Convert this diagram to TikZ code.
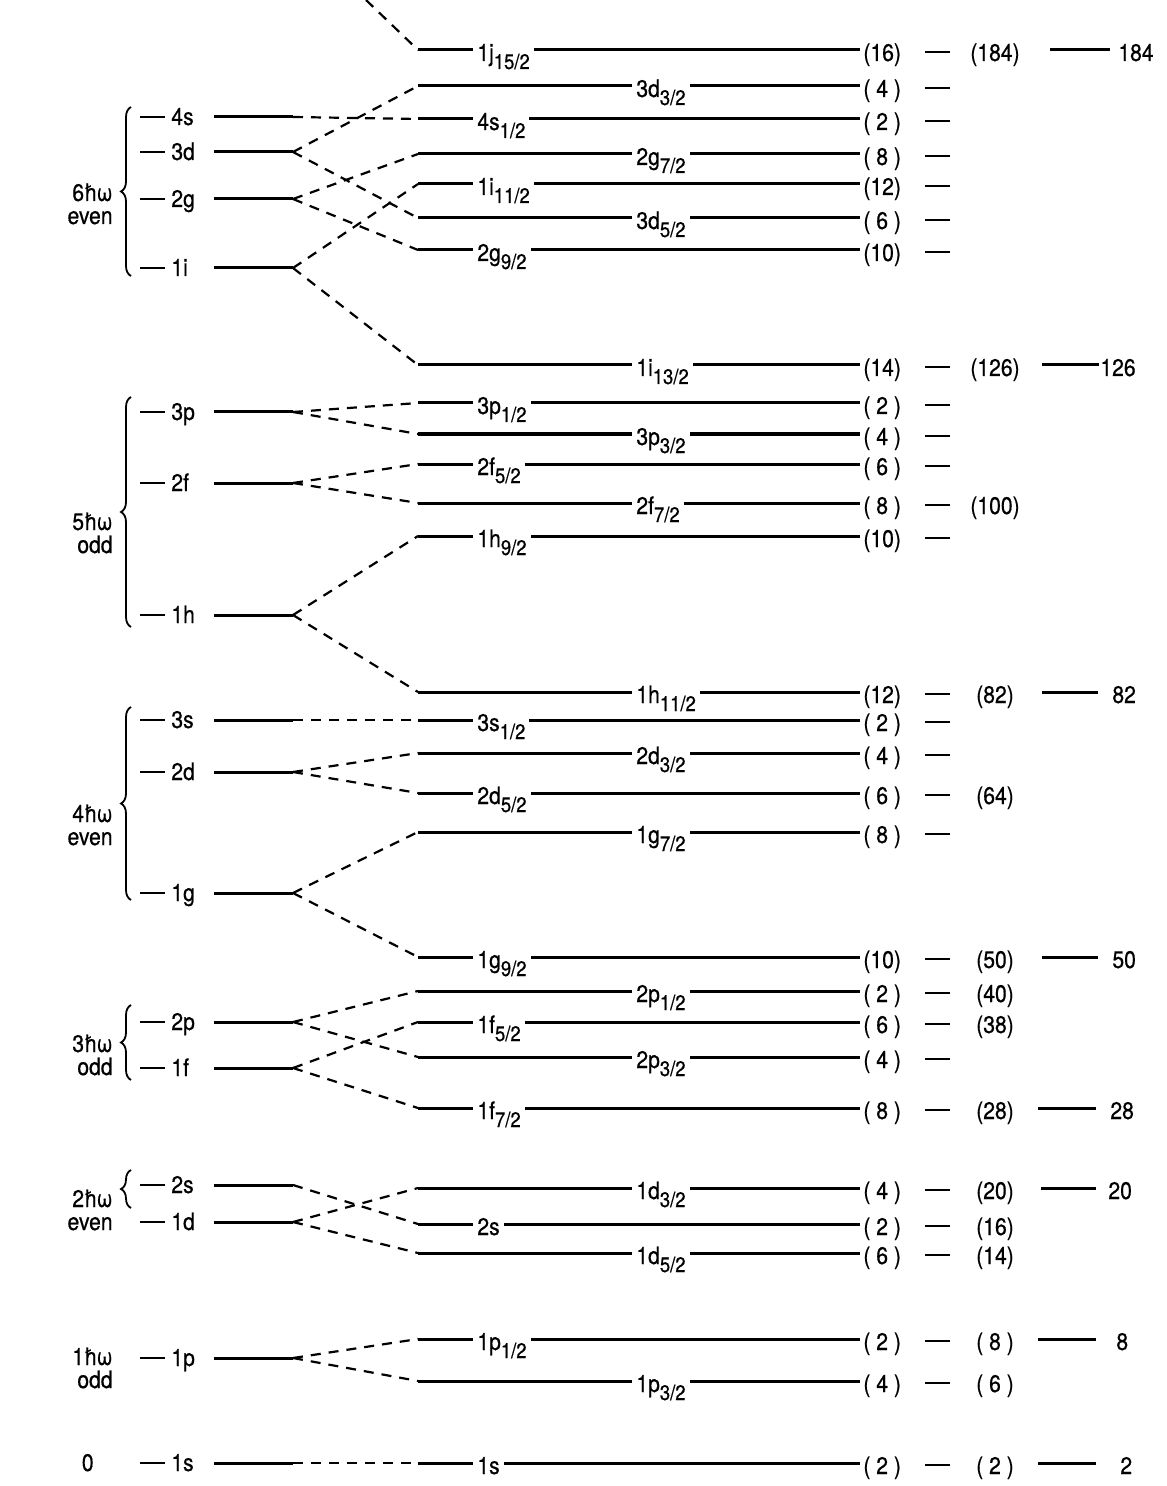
\documentclass[tikz,border=0pt]{standalone}
\usepackage{fontspec}
\setmainfont{TeX Gyre Heros}[FakeStretch=0.88,FakeBold=0.6]
\usetikzlibrary{decorations.pathreplacing}
\newcommand{\jsub}[1]{\raisebox{-4pt}{\fontsize{10.5}{11}\selectfont #1}}

\begin{document}
\begin{tikzpicture}[x=0.5pt,y=-0.5pt,
    every node/.style={inner sep=0pt,font=\fontsize{12}{13}\selectfont},
    level/.style={line width=1.5pt},
    tick/.style={line width=1.4pt},
    conn/.style={line width=1.1pt,dash pattern=on 5pt off 4pt},
    term/.style={anchor=base west,fill=white,inner xsep=2pt,inner ysep=1pt},
    deg/.style={anchor=base west},
    tot/.style={anchor=base},
    shell/.style={anchor=base east},
    osc/.style={anchor=base west},
    shellbrace/.style={decorate,decoration={brace,amplitude=5pt},line width=0.9pt}]
        \fill[white] (0,0) rectangle (1166,1486);
        \useasboundingbox (0,0) rectangle (1166,1486);

        % oscillator levels
        \foreach \n/\y in {4s/117,3d/152,2g/199,1i/268,3p/412,2f/483,1h/615,3s/720,2d/772,1g/893,2p/1022,1f/1068,2s/1185,1d/1222,1p/1358,1s/1463}{
            \draw[tick] (140,\y) -- (165,\y);
            \node[osc] (o\n) at (171,\y+8) {\n};
            \draw[level] (214,\y) -- (293,\y) coordinate (l\n);
        }

        \foreach \n/\y/\p in {6/201/even,5/530/odd,4/822/even,3/1052/odd,2/1207/even,1/1365/odd}{
            \node[shell] (w\n) at (113,\y) {{\n}ħω};
            \node[shell] (p\n) at (113,\y+23) {\p};
        }
        \node[shell] (w0) at (94,1471) {0};

        \foreach \t/\b in {107/276,397/627,707/900,1005/1080,1170/1208}{
            \draw[shellbrace] (131,\b) -- (131,\t);
        }

        % spin orbit levels
        \foreach \n/\y/\x/\lab/\d in {
            1j15/50/473/{1j\jsub{15/2}}/{(16)},
            3d3/86/632/{3d\jsub{3/2}}/{( 4 )},
            4s1/119/473/{4s\jsub{1/2}}/{( 2 )},
            2g7/154/632/{2g\jsub{7/2}}/{( 8 )},
            1i11/184/473/{1i\jsub{11/2}}/{(12)},
            3d5/218/632/{3d\jsub{5/2}}/{( 6 )},
            2g9/250/473/{2g\jsub{9/2}}/{(10)},
            1i13/365/632/{1i\jsub{13/2}}/{(14)},
            3p1/403/473/{3p\jsub{1/2}}/{( 2 )},
            3p3/434/632/{3p\jsub{3/2}}/{( 4 )},
            2f5/464/473/{2f\jsub{5/2}}/{( 6 )},
            2f7/503/632/{2f\jsub{7/2}}/{( 8 )},
            1h9/536/473/{1h\jsub{9/2}}/{(10)},
            1h11/692/632/{1h\jsub{11/2}}/{(12)},
            3s1/720/473/{3s\jsub{1/2}}/{( 2 )},
            2d3/753/632/{2d\jsub{3/2}}/{( 4 )},
            2d5/793/473/{2d\jsub{5/2}}/{( 6 )},
            1g7/832/632/{1g\jsub{7/2}}/{( 8 )},
            1g9/957/473/{1g\jsub{9/2}}/{(10)},
            2p1/991/632/{2p\jsub{1/2}}/{( 2 )},
            1f5/1022/473/{1f\jsub{5/2}}/{( 6 )},
            2p3/1057/632/{2p\jsub{3/2}}/{( 4 )},
            1f7/1108/473/{1f\jsub{7/2}}/{( 8 )},
            1d3/1188/632/{1d\jsub{3/2}}/{( 4 )},
            2s/1224/473/{2s}/{( 2 )},
            1d5/1253/632/{1d\jsub{5/2}}/{( 6 )},
            1p1/1339/473/{1p\jsub{1/2}}/{( 2 )},
            1p3/1381/632/{1p\jsub{3/2}}/{( 4 )},
            1s/1463/473/{1s}/{( 2 )}}{
            \coordinate (r\n) at (418,\y);
            \draw[level] (r\n) -- (860,\y);
            \node[term] (t\n) at (\x,\y+11) {\lab};
            \node[deg] (d\n) at (863,\y+11) {\d};
            \draw[tick] (925,\y+2) -- (950,\y+2);
        }

        % running totals and magic numbers
        \foreach \n/\y/\s in {1j15/50/(184),1i13/365/(126),2f7/503/(100),1h11/692/(82),2d5/793/(64),1g9/957/(50),2p1/991/(40),1f5/1022/(38),1f7/1108/(28),1d3/1188/(20),2s/1224/(16),1d5/1253/(14),1p1/1339/{( 8 )},1p3/1381/{( 6 )},1s/1463/{( 2 )}}{
            \node[tot] (n\n) at (995,\y+11) {\s};
        }
        \foreach \n/\y/\a/\b/\x/\m in {1j15/50/1050/1110/1118/184,1i13/365/1042/1099/1100/126,1h11/692/1042/1098/1112/82,1g9/957/1042/1098/1112/50,1f7/1108/1038/1096/1110/28,1d3/1188/1041/1096/1108/20,1p1/1339/1038/1096/1116/8,1s/1463/1038/1096/1120/2}{
            \coordinate (a\n) at (\a,\y);
            \coordinate (b\n) at (\b,\y);
            \draw[level] (a\n) -- (b\n);
            \node[deg] (m\n) at (\x,\y+11) {\m};
        }

        % splitting
        \coordinate (up7) at (366,0);
        \draw[conn] (up7) -- (r1j15);
        \foreach \a/\b in {4s/4s1,3d/3d3,3d/3d5,2g/2g7,2g/2g9,1i/1i11,1i/1i13,3p/3p1,3p/3p3,2f/2f5,2f/2f7,1h/1h9,1h/1h11,3s/3s1,2d/2d3,2d/2d5,1g/1g7,1g/1g9,2p/2p1,2p/2p3,1f/1f5,1f/1f7,2s/2s,1d/1d3,1d/1d5,1p/1p1,1p/1p3,1s/1s}{
            \draw[conn] (l\a) -- (r\b);
        }
\end{tikzpicture}
\end{document}
